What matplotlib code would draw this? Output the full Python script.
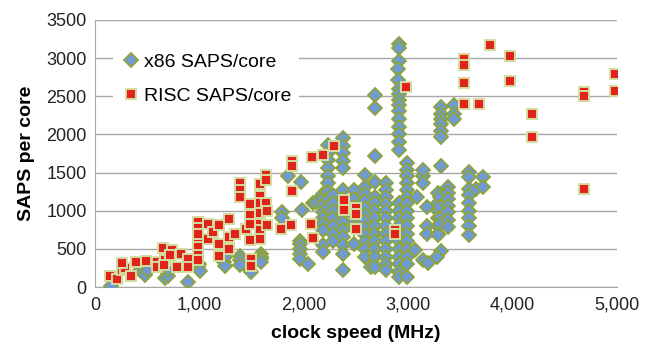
import matplotlib
matplotlib.use("Agg")
import matplotlib.pyplot as plt

plt.rcParams['font.family'] = ['Liberation Sans', 'DejaVu Sans']

# x86 SAPS/core (clock speed MHz, SAPS per core)
x86_mhz = [150, 430, 460, 480, 510, 670, 690, 700, 700, 890, 990, 1000, 1005,
           1240, 1250, 1250, 1390, 1390, 1390, 1485, 1490, 1590, 1590, 1590, 1590,
           1790, 1790, 1850, 1975, 1980, 1965, 1965, 1965, 1965, 1965, 2045, 2090, 2117,
           2187, 2187, 2187, 2187, 2187, 2187, 2187, 2187, 2187,
           2235, 2235, 2235, 2235, 2235, 2235, 2235, 2235, 2235,
           2283, 2283, 2283, 2283, 2283, 2283, 2283,
           2380, 2380, 2380, 2380, 2380, 2380, 2380, 2380, 2380, 2380, 2380, 2380, 2380, 2380, 2380,
           2480, 2480, 2480, 2480, 2480, 2480, 2480,
           2587, 2587, 2587, 2587, 2587, 2587, 2587, 2587, 2587, 2587, 2587, 2587, 2644,
           2683, 2683, 2683, 2683, 2683, 2683, 2683, 2683, 2683, 2683, 2683, 2683, 2683, 2683,
           2788, 2788, 2788, 2788, 2788, 2788, 2788, 2788, 2788, 2788, 2788, 2788, 2788,
           2916, 2916, 2916, 2900, 2900, 2916, 2916, 2916, 2916, 2916, 2916, 2916, 2916, 2916, 2916,
           2916, 2916, 2916, 2916, 2916, 2916, 2916, 2916, 2916, 2916, 2916,
           2986, 2986, 2986, 2986, 2986, 2986, 2986, 2986, 2986, 2986, 2986, 2986, 2986, 2986, 2986, 2986,
           3066, 3088, 3139, 3146, 3146, 3146, 3178, 3178, 3178, 3191,
           3283, 3283, 3283, 3283, 3283, 3283, 3305, 3305, 3305, 3305,
           3315, 3315, 3315, 3315, 3315, 3315, 3315, 3315, 3279, 3289,
           3385, 3385, 3385, 3385, 3385, 3385, 3385,
           3442, 3442, 3442,
           3586, 3586, 3586, 3586, 3586, 3586, 3586, 3586, 3586, 3650, 3714, 3714]
x86_saps = [20, 220, 200, 165, 220, 115, 195, 150, 240, 65, 260, 300, 215,
            330, 390, 280, 410, 350, 285, 220, 200, 440, 400, 370, 330,
            985, 900, 1450, 1380, 1005, 610, 570, 500, 430, 370, 305, 1098, 1115,
            1225, 1150, 1070, 990, 910, 830, 750, 550, 460,
            1860, 1750, 1660, 1560, 1460, 1360, 1250, 1150, 1050,
            1200, 1100, 1000, 900, 800, 700, 600,
            1950, 1850, 1750, 1650, 1560, 1270, 1150, 1050, 950, 850, 750, 650, 550, 440, 220,
            1270, 1150, 1050, 950, 850, 780, 570,
            1466, 1312, 1220, 1130, 1040, 950, 860, 770, 680, 590, 500, 400, 262,
            2515, 2340, 1720, 1378, 1180, 1100, 1000, 900, 800, 700, 600, 500, 400, 262,
            1360, 1270, 1180, 1090, 1000, 900, 800, 700, 600, 500, 400, 300, 220,
            3190, 3130, 2965, 2850, 2710, 2600, 2530, 2450, 2380, 2300, 2200, 2100, 2000, 1900, 1790,
            1100, 1000, 900, 800, 700, 600, 500, 400, 300, 200, 130,
            1620, 1530, 1450, 1360, 1270, 1180, 1100, 1000, 900, 800, 700, 600, 500, 400, 300, 130,
            480, 1180, 1450, 1530, 1360, 350, 1050, 800, 700, 320,
            1230, 1100, 1000, 900, 800, 700, 1180, 1050, 900, 830,
            2360, 2270, 2200, 2130, 2050, 1970, 1590, 470, 395, 680,
            1310, 1230, 1150, 1060, 980, 880, 790,
            2380, 2270, 2200,
            1510, 1440, 1290, 1200, 1100, 1000, 900, 800, 680, 1280, 1440, 1310]

# RISC SAPS/core
risc_mhz = [145, 215, 255, 285, 260, 350, 390, 490, 590, 590, 670, 660, 655, 735, 720,
            825, 785, 895, 895, 990, 990, 990, 990, 990, 990, 985, 985,
            1085, 1085, 1135, 1190, 1190, 1190, 1285, 1285, 1285, 1340,
            1390, 1390, 1390, 1445, 1485, 1485, 1485, 1485, 1490, 1490,
            1585, 1585, 1585, 1585, 1585, 1585, 1585, 1640, 1640, 1640, 1650, 1650,
            1785, 1885, 1885, 1885, 1875, 2080, 2185, 2290, 2065, 2085,
            2385, 2385, 2505, 2505, 2505, 2870, 2870, 2980,
            3535, 3535, 3535, 3535, 3680, 3785, 3980, 3980, 4185, 4185,
            4680, 4680, 4980, 4980, 4680]
risc_saps = [150, 110, 220, 250, 310, 150, 330, 340, 330, 260, 350, 285, 510, 480, 415,
             430, 260, 370, 260, 855, 745, 635, 525, 415, 350, 780, 690,
             830, 625, 720, 810, 570, 405, 890, 650, 505, 700,
             1365, 1270, 1180, 765, 1085, 940, 830, 615, 370, 270,
             1345, 1190, 1100, 965, 830, 745, 635, 1465, 1400, 1095, 810, 1000,
             765, 1650, 1590, 1260, 810, 1705, 1735, 1845, 830, 645,
             1140, 1005, 1030, 960, 765, 745, 700, 2615,
             2985, 2910, 2675, 2395, 2395, 3170, 3020, 2700, 2265, 1960,
             2550, 2500, 2790, 2570, 1280]

fig = plt.figure(figsize=(6.46, 3.48), dpi=100)
ax = fig.add_axes([0.147, 0.175, 0.808, 0.768])

ax.plot(x86_mhz, x86_saps, linestyle='none', marker='D', markersize=7.4,
        markerfacecolor='#6f9bd2', markeredgecolor='#8da43c', markeredgewidth=1.3,
        label='x86 SAPS/core', zorder=3)
ax.plot(risc_mhz, risc_saps, linestyle='none', marker='s', markersize=6.8,
        markerfacecolor='#e0231b', markeredgecolor='#d3dda0', markeredgewidth=1.4,
        label='RISC SAPS/core', zorder=4)

ax.set_xlim(0, 5000)
ax.set_ylim(0, 3500)
ax.set_xticks(range(0, 5001, 1000))
ax.set_xticklabels(['0', '1,000', '2,000', '3,000', '4,000', '5,000'])
ax.set_yticks(range(0, 3501, 500))
ax.tick_params(axis='both', length=0, labelsize=13, colors='#222222')
ax.tick_params(axis='x', pad=7)
ax.tick_params(axis='y', pad=6)

ax.grid(axis='y', color='#a6a6a6', linewidth=1.0)
ax.set_axisbelow(True)
for side in ['top', 'right']:
    ax.spines[side].set_visible(False)
for side in ['left', 'bottom']:
    ax.spines[side].set_color('#a6a6a6')

ax.set_xlabel('clock speed (MHz)', fontsize=14, fontweight='bold', labelpad=8)
ax.set_ylabel('SAPS per core', fontsize=14, fontweight='bold', labelpad=8)

leg = ax.legend(loc='upper left', bbox_to_anchor=(0.035, 0.905), fontsize=14,
                frameon=True, facecolor='white', edgecolor='none', framealpha=1,
                labelspacing=0.85, handletextpad=0.2, handlelength=1.0,
                borderaxespad=0)
leg.set_zorder(5)

fig.savefig('out.png', dpi=100)
